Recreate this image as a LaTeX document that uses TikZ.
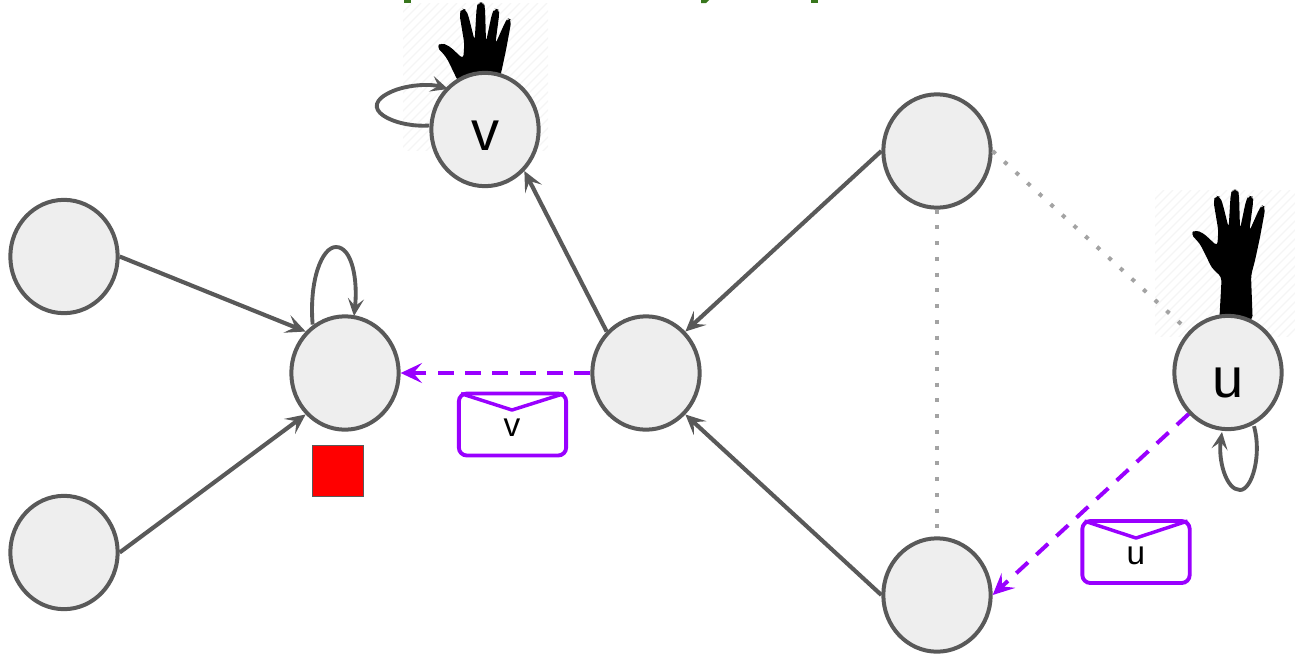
\documentclass[tikz,border=0pt]{standalone}
\usepackage{fontspec}
\setmainfont{Liberation Sans}
\usetikzlibrary{shapes.geometric,arrows.meta,calc}
\definecolor{edgegray}{HTML}{595959}
\definecolor{nodefill}{HTML}{EEEEEE}
\definecolor{msgpurple}{HTML}{9900FF}
\definecolor{dotgray}{HTML}{A3A3A3}
\definecolor{hatchgray}{HTML}{F5F5F5}
\definecolor{titlegreen}{HTML}{38761D}
\newcommand{\lowv}[2]{\raisebox{#1}[0pt][0pt]{#2}}
\tikzset{
  vertex/.style={ellipse,draw=edgegray,fill=nodefill,line width=3pt,minimum width=80.5pt,minimum height=85pt,inner sep=0pt,font=\fontsize{42}{42}\selectfont},
  link/.style={draw=edgegray,line width=3.1pt,-{Stealth[length=15pt,width=14pt,inset=6.5pt]}},
  loopedge/.style={draw=edgegray,line width=2.9pt,-{Stealth[length=13pt,width=12pt,inset=5.5pt]}},
  msg/.style={draw=msgpurple,line width=3pt,dash pattern=on 12pt off 8.5pt,-{Stealth[length=16pt,width=15pt,inset=6.5pt,fill=msgpurple]}},
  friend/.style={draw=dotgray,line width=3pt,dash pattern=on 3pt off 8.8pt},
  envelope/.style={rectangle,draw=msgpurple,line width=2.9pt,rounded corners=6pt,minimum width=80.5pt,minimum height=46.5pt,inner sep=0pt,fill=white},
  envflap/.style={draw=msgpurple,line width=2.6pt,line join=round},
  envtext/.style={font=\fontsize{25}{25}\selectfont,inner sep=0pt},
  hand/.pic={
    \fill[black,x=0.25pt,y=-0.25pt,rounded corners=3pt]
      (238,418) -- (245,290) -- (215,262) -- (200,230) -- (180,190) -- (152,160) -- (165,148) -- (190,158) -- (232,197)
      -- (235,150) -- (220,60) -- (228,46) -- (240,48) -- (248,70) -- (266,142)
      -- (272,40) -- (278,27) -- (292,27) -- (297,40) -- (300,146)
      -- (318,60) -- (326,46) -- (338,48) -- (340,60) -- (328,152)
      -- (358,85) -- (366,74) -- (376,80) -- (372,105) -- (360,170) -- (345,240) -- (333,285) -- (338,418) -- cycle;
  }
}
\begin{document}
\begin{tikzpicture}[x=0.75pt,y=-0.75pt]
\useasboundingbox (0,0) rectangle (1295,657);
% clipped title remnants
\fill[titlegreen] (404,0) rectangle (411,3);
\fill[titlegreen] (701,0) -- (709,0) -- (706,3) -- (701,3) -- cycle;
\fill[titlegreen] (811,0) rectangle (818,3);
% hatched image backgrounds
\begin{scope}
  \clip (403,3) rectangle (548,150);
  \foreach \k in {0,9,...,300} {\draw[hatchgray,line width=0.9pt] (403+\k,3) -- (403+\k-150,153);}
\end{scope}
\begin{scope}
  \clip (1155,190) rectangle (1295,336);
  \foreach \k in {0,9,...,300} {\draw[hatchgray,line width=0.9pt] (1155+\k,190) -- (1155+\k-150,340);}
\end{scope}
\pic at (386,-6.6) {hand};
\pic at (1140,180.5) {hand};
% nodes
\node[vertex] (v) at (485,129.5) {\lowv{-15.5pt}{v}};
\node[vertex] (top) at (937,151) {};
\node[vertex] (u) at (1228,372.5) {\lowv{-18.5pt}{u}};
\node[vertex] (la) at (64,256.5) {};
\node[vertex] (lb) at (64,552.5) {};
\node[vertex] (sink) at (345,373) {};
\node[vertex] (mid) at (646,373) {};
\node[vertex] (bot) at (937,595) {};
% friend links
\draw[friend] (top.east) -- (u.north west);
\draw[friend] (top.south) -- (bot.north);
% directed links
\draw[link] (la.east) -- (sink.north west);
\draw[link] (lb.east) -- (sink.south west);
\draw[link] (top.west) -- (mid.north east);
\draw[link] (bot.west) -- (mid.south east);
\draw[link] (mid.north west) -- (v.south east);
% message links
\draw[msg] (mid.west) -- (sink.east);
\draw[msg] (u.south west) -- (bot.east);
% self loops
\draw[loopedge] ($(v.west)+(0,-4)$) .. controls (395,128) and (353,108) .. (393,91) .. controls (410,84) and (432,84) .. (448,89);
\draw[loopedge] (sink.north west) ++(7,-7) .. controls (309,280) and (322,247) .. (336,247) .. controls (352,247) and (358,280) .. (354,316);
\draw[loopedge] (u.south) ++(26,-5) .. controls (1262,455) and (1252,490) .. (1240,490) .. controls (1226,490) and (1218,460) .. (1222,432);
% stop square
\node[rectangle,draw=edgegray,line width=1pt,fill=red,minimum size=38pt,inner sep=0pt] (stop) at (338,471) {};
% envelopes
\node[envelope] (ev) at (512.5,424.5) {};
\draw[envflap] ($(ev.north west)+(4,2)$) -- (512,410) -- ($(ev.north east)+(-4,2)$);
\node[envtext] (evt) at (512,428) {v};
\node[envelope] (eu) at (1136,552) {};
\draw[envflap] ($(eu.north west)+(4,2)$) -- (1136,538) -- ($(eu.north east)+(-4,2)$);
\node[envtext] (eut) at (1136,556) {u};
\end{tikzpicture}
\end{document}
